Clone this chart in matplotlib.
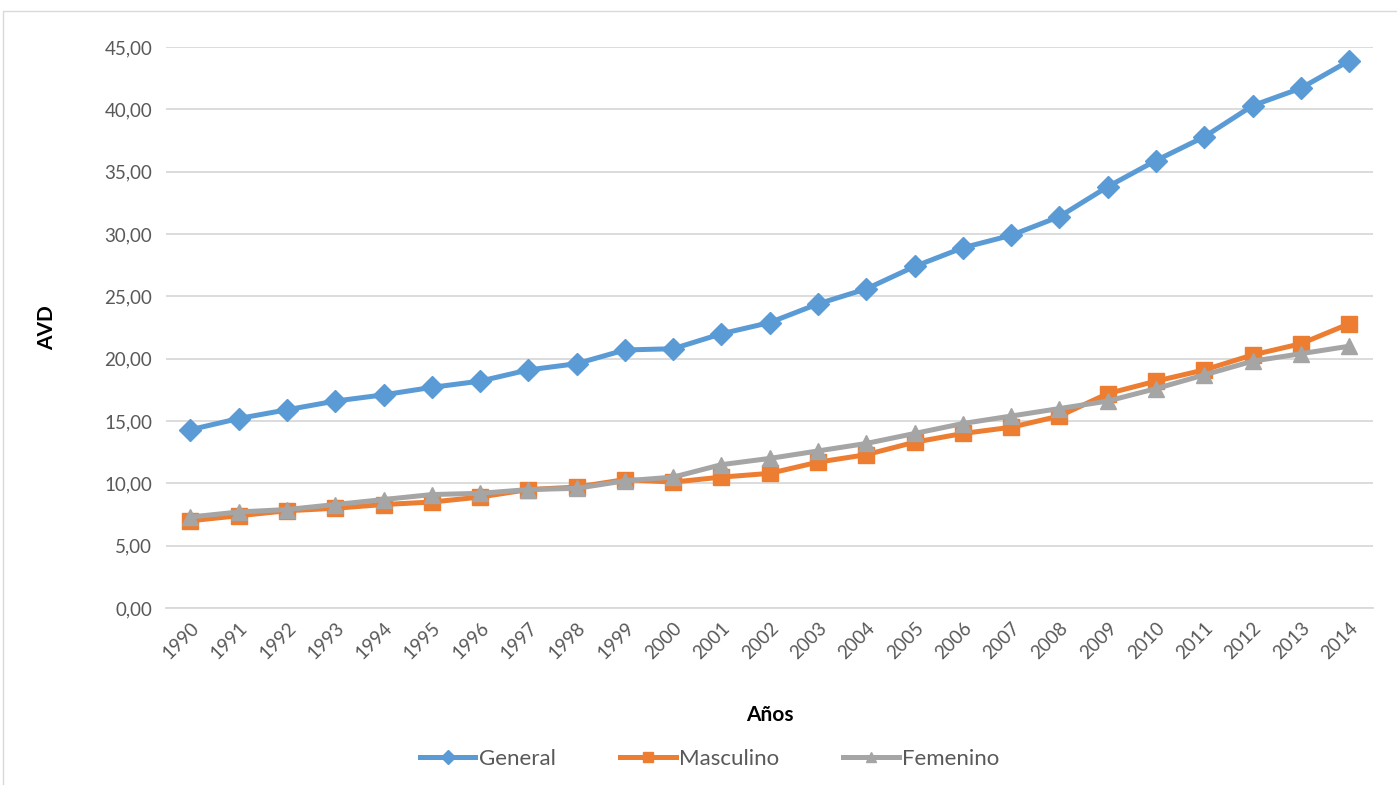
import matplotlib
matplotlib.use("Agg")
import matplotlib.pyplot as plt
from matplotlib.patches import Rectangle
from matplotlib.ticker import FuncFormatter

years = [str(y) for y in range(1990, 2015)]
general = [14.3, 15.2, 15.9, 16.6, 17.1, 17.7, 18.2, 19.1, 19.6, 20.7, 20.8, 22.0, 22.9,
           24.4, 25.6, 27.4, 28.9, 29.9, 31.4, 33.8, 35.9, 37.8, 40.3, 41.7, 43.9]
masculino = [7.0, 7.4, 7.8, 8.0, 8.3, 8.5, 8.9, 9.5, 9.7, 10.3, 10.1, 10.5, 10.8,
             11.7, 12.3, 13.3, 14.0, 14.5, 15.4, 17.2, 18.2, 19.1, 20.3, 21.2, 22.8]
femenino = [7.3, 7.7, 7.9, 8.3, 8.7, 9.1, 9.2, 9.5, 9.6, 10.2, 10.5, 11.5, 12.0,
            12.6, 13.2, 14.0, 14.8, 15.4, 16.0, 16.6, 17.6, 18.7, 19.8, 20.4, 21.0]
yticks = [0, 5, 10, 15, 20, 25, 30, 35, 40, 45]

plt.rcParams['font.family'] = ['Lato', 'DejaVu Sans']

fig = plt.figure(figsize=(13.97, 7.85), dpi=100)
ax = fig.add_axes([0.119, 0.2255, 0.864, 0.7145])

x = list(range(len(years)))
ax.plot(x, general, color='#5B9BD5', lw=3.6, marker='D', ms=11, label='General', zorder=3)
ax.plot(x, masculino, color='#ED7D31', lw=3.6, marker='s', ms=12, label='Masculino', zorder=3)
ax.plot(x, femenino, color='#A5A5A5', lw=3.6, marker='^', ms=12, label='Femenino', zorder=4)

ax.set_xlim(-0.5, len(years) - 0.5)
ax.set_ylim(0, 45)
ax.set_yticks(yticks)
ax.yaxis.set_major_formatter(FuncFormatter(lambda v, p: f"{v:.2f}".replace('.', ',')))
ax.set_xticks(x)
ax.set_xticklabels(years, rotation=45, ha='right', va='top', rotation_mode='anchor')
ax.tick_params(axis='both', length=0, labelsize=13.5, colors='#595959')
ax.tick_params(axis='x', pad=8)
ax.tick_params(axis='y', pad=10)
ax.grid(axis='y', color='#D9D9D9', lw=1.3, zorder=0)
ax.set_axisbelow(True)
for s in ['top', 'right', 'left']:
    ax.spines[s].set_visible(False)
ax.spines['bottom'].set_color('#D9D9D9')
ax.spines['bottom'].set_linewidth(1.3)

ax.set_ylabel('AVD', fontsize=15, fontweight='bold', color='black', labelpad=34)
ax.set_xlabel('Años', fontsize=15, fontweight='bold', color='black', labelpad=31)

leg = fig.legend(loc='center', bbox_to_anchor=(0.508, 0.033), ncol=3, frameon=False,
                 fontsize=16, handlelength=2.5, columnspacing=2.9, handletextpad=0.15,
                 markerscale=0.65)
for t in leg.get_texts():
    t.set_color('#595959')

fig.patches.append(Rectangle((3/1397, -0.01), 1.0, 1 - 11/785 + 0.01, transform=fig.transFigure,
                             fill=False, edgecolor='#D9D9D9', lw=1.0))

fig.savefig('out.png', dpi=100, facecolor='white')
